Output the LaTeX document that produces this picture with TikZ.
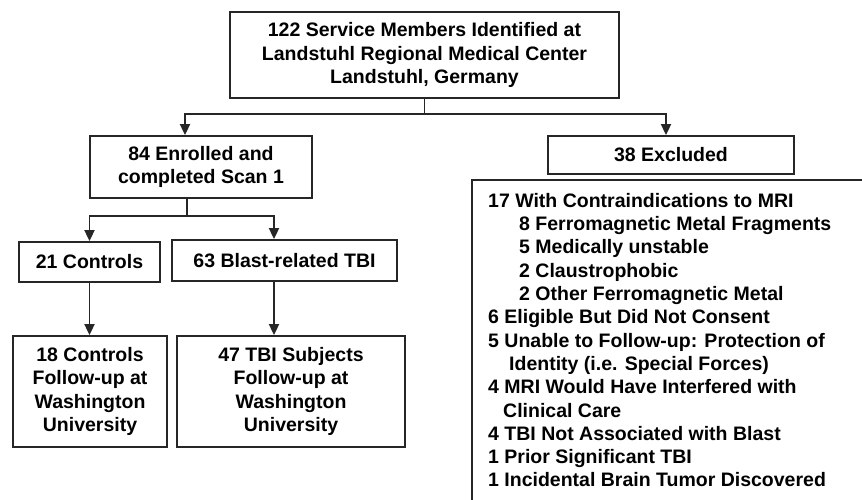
\documentclass[tikz,border=0pt]{standalone}
\usepackage{fontspec}
\setmainfont{Liberation Sans}
\usetikzlibrary{arrows.meta,calc}
\begin{document}
\begin{tikzpicture}[x=1pt,y=-1pt,
  txt/.style={font=\bfseries\fontsize{19.5}{23.3}\selectfont},
  box/.style={txt,draw=black!85,line width=1.8pt,fill=white,inner sep=0pt,align=center},
  conn/.style={draw=black!85,line width=1.8pt},
  arr/.style={conn,-{Triangle[length=11pt,width=10pt]}}]
\useasboundingbox (0,0) rectangle (862,500);
\fill[white] (0,0) rectangle (862,500);
% boxes
\node[box,minimum width=389pt,minimum height=86pt] (top) at (424.5,55)
  {122 Service Members Identified at\\Landstuhl Regional Medical Center\\Landstuhl, Germany};
\node[box,minimum width=222pt,minimum height=62pt] (enr) at (201,167)
  {84 Enrolled and\\completed Scan 1};
\node[box,minimum width=246pt,minimum height=38pt] (exc) at (671,155) {38 Excluded};
\node[box,minimum width=141pt,minimum height=40pt] (ctl) at (89.5,262) {21 Controls};
\node[box,minimum width=225pt,minimum height=41pt] (bla) at (284.5,260.5) {63 Blast-related TBI};
\node[box,minimum width=154pt,minimum height=111pt] (fc) at (90,391.5)
  {18 Controls\\Follow-up at\\Washington\\University};
\node[box,minimum width=228pt,minimum height=111pt] (ft) at (291,391.5)
  {47 TBI Subjects\\Follow-up at\\Washington\\University};
% exclusion list frame (runs off the picture)
\begin{scope}
  \clip (0,0) rectangle (862,500);
  \draw[conn] (472,180) rectangle (900,540);
\end{scope}
\node[txt,anchor=north west,inner sep=0pt,align=left] (list) at (488,193)
  {17 With Contraindications to MRI\\
   \hspace*{31pt}8 Ferromagnetic Metal Fragments\\
   \hspace*{31pt}5 Medically unstable\\
   \hspace*{31pt}2 Claustrophobic\\
   \hspace*{31pt}2 Other Ferromagnetic Metal\\
   6 Eligible But Did Not Consent\\
   5 Unable to Follow-up: Protection of\\
   \hspace*{21pt}Identity (i.e. Special Forces)\\
   4 MRI Would Have Interfered with\\
   \hspace*{15pt}Clinical Care\\
   4 TBI Not Associated with Blast\\
   1 Prior Significant TBI\\
   1 Incidental Brain Tumor Discovered};
% connectors
\coordinate (ea) at ([xshift=-16pt]enr.north);
\coordinate (xa) at ([xshift=-5pt]exc.north);
\coordinate (s1) at ($(top.south)+(0,15)$);
\draw[conn] (top.south) -- (s1);
\draw[arr] (s1) -| (ea);
\draw[arr] (s1) -| (xa);
\coordinate (eb) at ([xshift=-14pt]enr.south);
\coordinate (s2) at ($(eb)+(0,17)$);
\coordinate (ba) at ([xshift=-10.5pt]bla.north);
\coordinate (bb) at ([xshift=-10.5pt]bla.south);
\draw[conn] (eb) -- (s2);
\draw[arr] (s2) -| (ctl.north);
\draw[arr] (s2) -| (ba);
\draw[arr] (ctl.south) -- (ctl.south |- fc.north);
\draw[arr] (bb) -- (bb |- ft.north);
\end{tikzpicture}
\end{document}
